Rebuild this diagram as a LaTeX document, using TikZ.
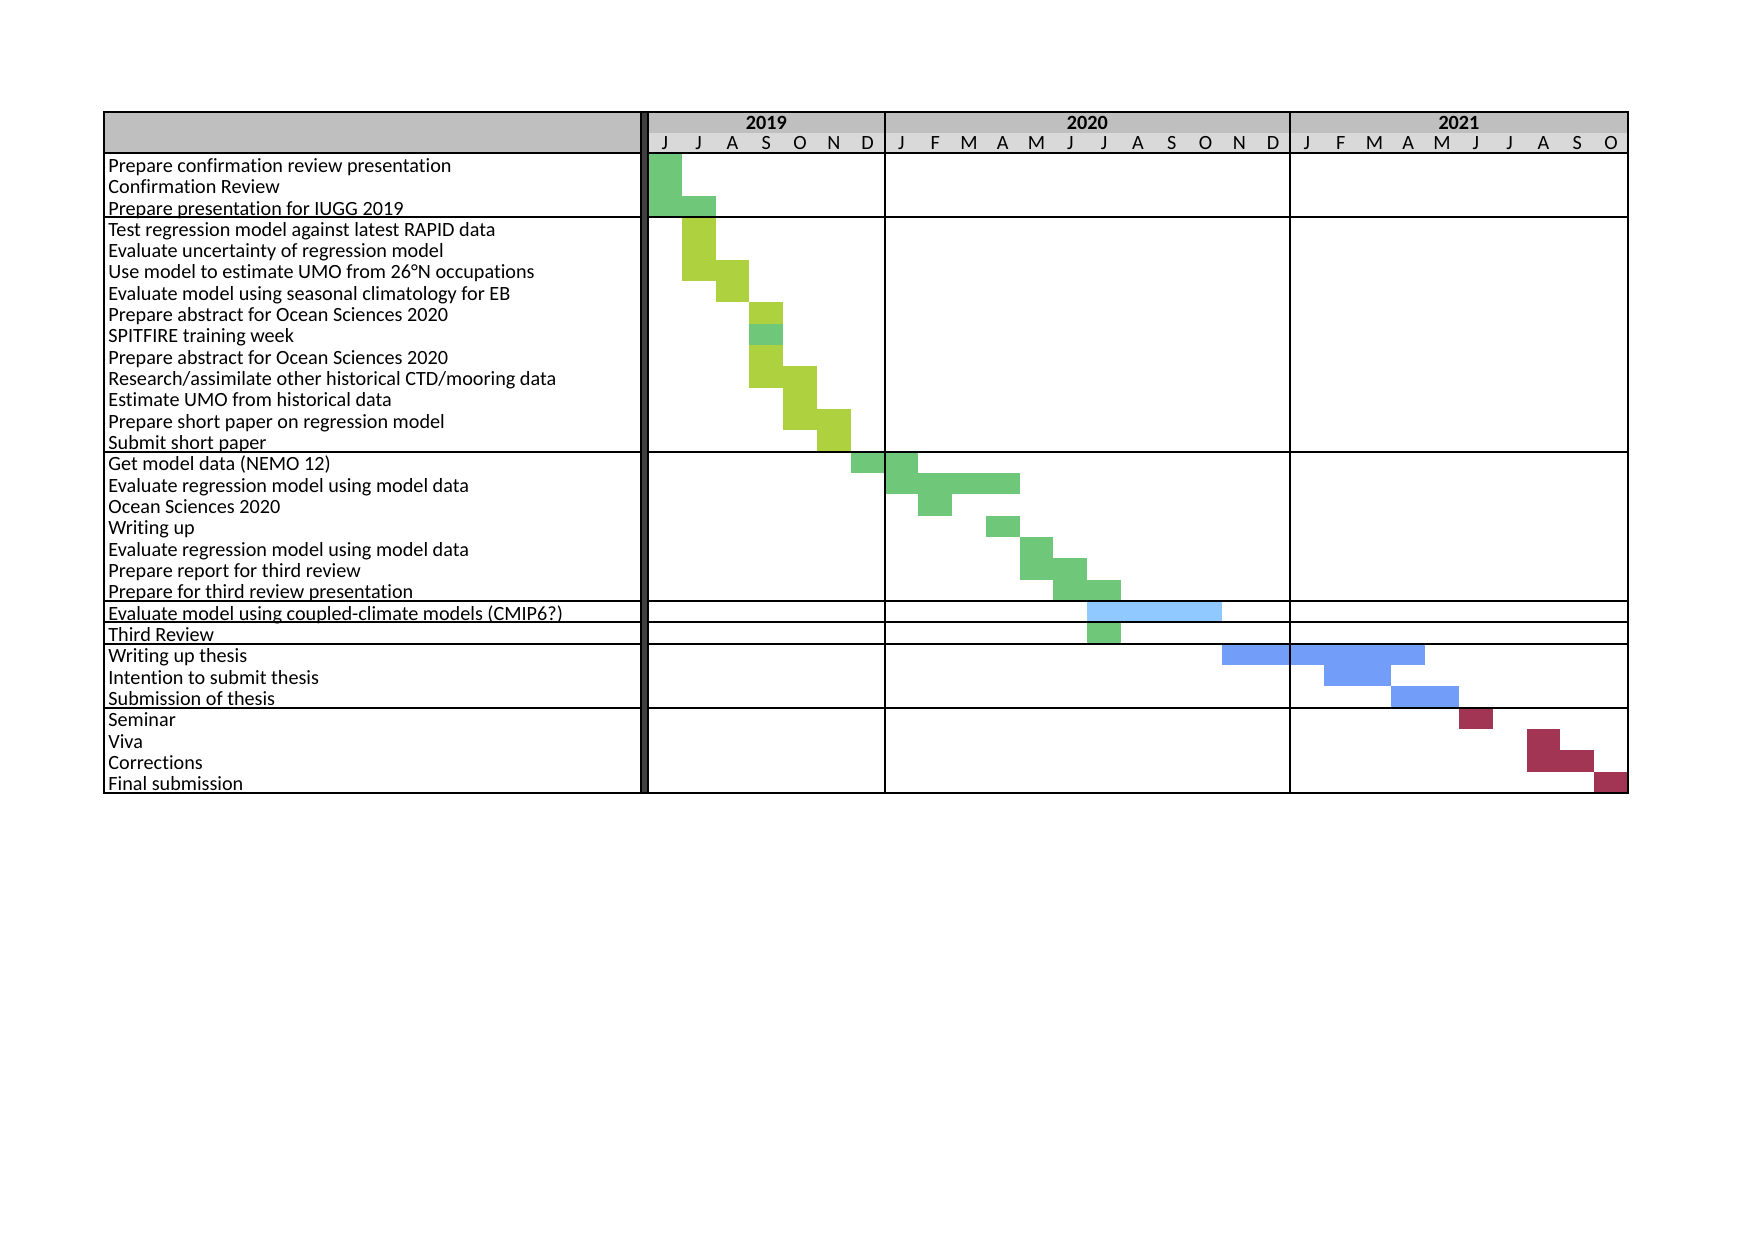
\documentclass[tikz,border=0pt]{standalone}
\usepackage{fontspec}
\setmainfont{Carlito}[Ligatures=NoCommon]
\definecolor{cgreen}{HTML}{6FC77A}
\definecolor{cyg}{HTML}{ADD13F}
\definecolor{clblue}{HTML}{8FC9FF}
\definecolor{cblue}{HTML}{729EF9}
\definecolor{ccrim}{HTML}{A13553}
\definecolor{hdrA}{HTML}{BFBFBF}
\definecolor{hdrB}{HTML}{D9D9D9}
\definecolor{sepbar}{HTML}{3F3F3F}
\begin{document}
\begin{tikzpicture}[x=0.5pt,y=-0.5pt,
  lbl/.style={anchor=base west,inner sep=0pt,font=\fontsize{10.1}{11}\selectfont},
  mon/.style={anchor=base,inner sep=0pt,font=\fontsize{10.1}{11}\selectfont},
  yr/.style={anchor=base,inner sep=0pt,font=\fontsize{10.1}{11}\selectfont\bfseries},
  gline/.style={line width=1pt,black},
  oline/.style={line width=1.2pt,black}]
\useasboundingbox (0,0) rectangle (1754,1239);
\pgfmathsetmacro{\G}{648}
\pgfmathsetmacro{\W}{33.79}
\pgfmathsetmacro{\RH}{21.33}
% header fills
\fill[hdrA] (104,112) rectangle (641,153);
\fill[hdrA] (648,112) rectangle (1628,132.5);
\fill[hdrB] (648,132.5) rectangle (1628,153);
% bars
\foreach \r/\a/\b/\c in {1/0/0/cgreen,2/0/0/cgreen,3/0/1/cgreen,
  4/1/1/cyg,5/1/1/cyg,6/1/2/cyg,7/2/2/cyg,8/3/3/cyg,9/3/3/cgreen,10/3/3/cyg,
  11/3/4/cyg,12/4/4/cyg,13/4/5/cyg,14/5/5/cyg,
  15/6/7/cgreen,16/7/10/cgreen,17/8/8/cgreen,18/10/10/cgreen,19/11/11/cgreen,
  20/11/12/cgreen,21/12/13/cgreen,22/13/16/clblue,23/13/13/cgreen,
  24/17/22/cblue,25/20/21/cblue,26/22/23/cblue,
  27/24/24/ccrim,28/26/26/ccrim,29/26/27/ccrim,30/28/28/ccrim}{
  \fill[\c] ({\G+\a*\W},{153+(\r-1)*\RH}) rectangle ({\G+(\b+1)*\W},{153+\r*\RH});
}
% labels
\foreach \i/\t in {1/Prepare confirmation review presentation,
 2/Confirmation Review,
 3/Prepare presentation for IUGG 2019,
 4/Test regression model against latest RAPID data,
 5/Evaluate uncertainty of regression model,
 6/Use model to estimate UMO from 26°N occupations,
 7/Evaluate model using seasonal climatology for EB,
 8/Prepare abstract for Ocean Sciences 2020,
 9/SPITFIRE training week,
 10/Prepare abstract for Ocean Sciences 2020,
 11/Research\slash assimilate other historical CTD\slash mooring data,
 12/Estimate UMO from historical data,
 13/Prepare short paper on regression model,
 14/Submit short paper,
 15/Get model data (NEMO 12),
 16/Evaluate regression model using model data,
 17/Ocean Sciences 2020,
 18/Writing up,
 19/Evaluate regression model using model data,
 20/Prepare report for third review,
 21/Prepare for third review presentation,
 22/Evaluate model using coupled-climate models (CMIP6?),
 23/Third Review,
 24/Writing up thesis,
 25/Intention to submit thesis,
 26/Submission of thesis,
 27/Seminar,
 28/Viva,
 29/Corrections,
 30/Final submission}{
  \node[lbl] (task\i) at (108,{153+\i*\RH-2}) {\t};
}
% months
\foreach \m [count=\k from 0] in {J,J,A,S,O,N,D,J,F,M,A,M,J,J,A,S,O,N,D,J,F,M,A,M,J,J,A,S,O}{
  \node[mon] (m\k) at ({\G+(\k+0.5)*\W},149.5) {\m};
}
\node[yr] (y2019) at ({\G+3.5*\W},129.5) {2019};
\node[yr] (y2020) at ({\G+13*\W},129.5) {2020};
\node[yr] (y2021) at ({\G+24*\W},129.5) {2021};
% horizontal group lines
\draw[gline] (104,153) -- (1628,153);
\foreach \r in {3,14,21,22,23,26}{
  \draw[gline] (104,{153+\r*\RH}) -- (1628,{153+\r*\RH});
}
% year separators
\draw[gline] ({\G+7*\W},112) -- ({\G+7*\W},793);
\draw[gline] ({\G+19*\W},112) -- ({\G+19*\W},793);
% thick separator bar
\fill[sepbar] (641,112) rectangle (648,793);
\draw[line width=0.6pt] (641,112) -- (641,793) (648,112) -- (648,793);
% outer border
\draw[oline] (104,112) rectangle (1628,793);
\end{tikzpicture}
\end{document}
